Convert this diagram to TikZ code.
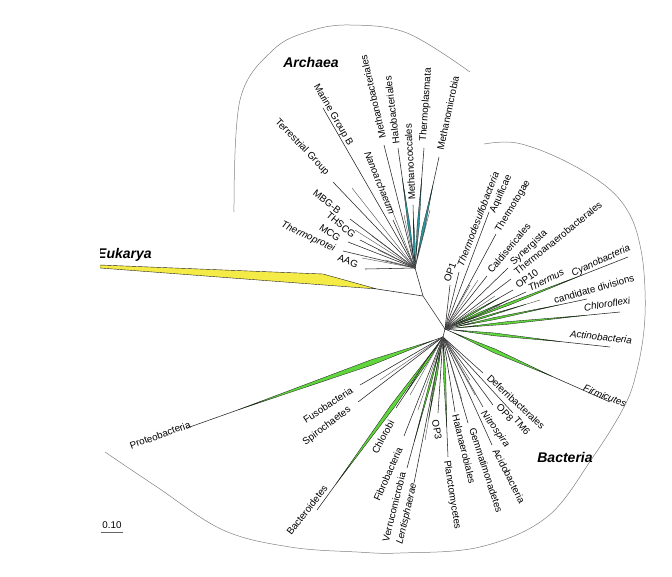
\documentclass[tikz,border=0pt]{standalone}
\usepackage{fontspec}
\setmainfont{Liberation Sans}
\usetikzlibrary{calc}
\definecolor{gr}{RGB}{95,215,60}
\definecolor{tl}{RGB}{45,150,160}
\definecolor{yl}{RGB}{245,235,70}
\definecolor{ln}{RGB}{35,35,35}
\newcommand{\kite}[7]{%
  \path[#1] ($(#2)!#4!(#3)$) -- ($(#2)!#5!(#3)!#7!90:(#3)$) -- ($(#2)!#6!(#3)$) -- ($(#2)!#5!(#3)!#7!-90:(#3)$) -- cycle;}
\begin{document}
\begin{tikzpicture}[x=1pt,y=-1pt,
  lbl/.style={font=\fontsize{9.8}{11}\selectfont, inner sep=0pt},
  lbli/.style={lbl, font=\fontsize{9.8}{11}\selectfont\itshape},
  grp/.style={font=\fontsize{14}{16}\selectfont\bfseries\itshape, inner sep=0pt},
  br/.style={draw=ln, line width=0.55pt},
  xbr/.style={draw=ln!80, line width=0.4pt},
  gk/.style={fill=gr, draw=ln, line width=0.35pt},
  tk/.style={fill=tl, draw=ln, line width=0.3pt},
  arcline/.style={draw=black!50, line width=0.5pt}]
\useasboundingbox (0,0) rectangle (672,576);
\clip (100,0) rectangle (672,576);

% hubs
\coordinate (HA) at (415,268);
\coordinate (J) at (423,296);
\coordinate (C) at (445,329);
\coordinate (HL) at (443,337);

% outline arcs
\draw[arcline] plot[smooth, tension=0.6] coordinates {(234,212) (240,100) (273,50) (310,31) (350,25) (407,33) (470,72)};
\draw[arcline] plot[smooth, tension=0.6] coordinates {(484,144) (517,143) (563,160) (607,187) (630,215) (641,250) (645,290) (644,330) (637,370) (625,405) (593,457) (547,517) (480,547) (400,553) (357,552) (290,547) (223,530) (157,487) (105,452)};

% Eukarya
\coordinate (eA) at (377,289);
\coordinate (eB) at (323,274);
\coordinate (eC) at (100,265);
\coordinate (eD) at (100,268);
\draw[br] (J) -- (eA);
\filldraw[fill=yl, draw=ln, line width=0.4pt] (eA) -- (eB) -- (eC) -- (eD) -- cycle;

% trunk
\draw[br] (HA) -- (J) -- (C) -- (HL);

% Archaea tips
\coordinate (aAAG) at (365,269);
\coordinate (aTP) at (343,251);
\coordinate (aMCG) at (348,242);
\coordinate (aTHS) at (360,240);
\coordinate (aMBG) at (350,219);
\coordinate (aTG) at (333,182);
\coordinate (aMGB) at (323,108);
\coordinate (aNano) at (393,220);
\coordinate (aMbac) at (384,145);
\coordinate (aHalo) at (398,148);
\coordinate (aMcoc) at (413,205);
\coordinate (aTpl) at (424,148);
\coordinate (aMmic) at (439,157);
\coordinate (ax1) at (372,236);
\coordinate (ax2) at (362,258);
\coordinate (ax3) at (378,250);
\coordinate (ax4) at (355,230);
\coordinate (ax5) at (352,188);
\coordinate (ax6) at (388,200);
\coordinate (ax7) at (404,215);
\coordinate (ax8) at (430,210);
\coordinate (ax9) at (385,260);
\foreach \t in {aAAG,aTP,aMCG,aTHS,aMBG,aTG,aMGB,aNano,aMbac,aHalo,aMcoc,aTpl,aMmic}
  \draw[br] (HA) -- (\t);
\foreach \t in {ax1,ax2,ax3,ax4,ax5,ax6,ax7,ax8,ax9}
  \draw[xbr] (HA) -- (\t);
\kite{tk}{HA}{aHalo}{0.08}{0.35}{0.75}{1.1pt}
\kite{tk}{HA}{aMcoc}{0.08}{0.35}{0.8}{1pt}
\kite{tk}{HA}{aTpl}{0.08}{0.35}{0.75}{1.1pt}
\kite{tk}{HA}{aMmic}{0.08}{0.35}{0.75}{1.3pt}

% Archaea labels
\node[grp] (gArch) at (311,62) {Archaea};
\node[lbl,rotate=-60] (lMGB) at (333,115) {Marine Group B};
\node[lbl,rotate=-46] (lTG) at (302,147) {Terrestrial Group};
\node[lbl,rotate=-38] (lMBG) at (327,202) {MBG-B};
\node[lbl,rotate=-40] (lTHS) at (341,225) {THSCG};
\node[lbl,rotate=-35] (lMCG) at (330,233) {MCG};
\node[lbli,rotate=-25] (lTP) at (308,237) {Thermoprotei};
\node[lbl,rotate=-22] (lAAG) at (348,261) {AAG};
\node[lbli,rotate=-68] (lNano) at (380,183) {Nanoarchaeum};
\node[lbl,rotate=103] (lMbac) at (373,97) {Methanobacteriales};
\node[lbl,rotate=97] (lHalo) at (392,110) {Halobacteriales};
\node[lbl,rotate=93] (lMcoc) at (410,162) {Methanococcales};
\node[lbl,rotate=86] (lTpl) at (426,105) {Thermoplasmata};
\node[lbl,rotate=78] (lMmic) at (448,113) {Methanomicrobia};

% Bacteria upper tips (hub C)
\coordinate (bOP1) at (450,285);
\coordinate (bTds) at (459,272);
\coordinate (bAqu) at (489,212);
\coordinate (bTtg) at (496,234);
\coordinate (bCal) at (487,276);
\coordinate (bSyn) at (508,268);
\coordinate (bTan) at (511,279);
\coordinate (bOP10) at (513,290);
\coordinate (bThs) at (526,292);
\coordinate (bCya) at (628,257);
\coordinate (bCand) at (587,299);
\coordinate (bChl) at (620,312);
\coordinate (bAct) at (610,347);
\coordinate (bFirm) at (610,402);
\coordinate (cx1) at (470,285);
\coordinate (cx2) at (478,280);
\coordinate (cx3) at (495,296);
\coordinate (cx4) at (500,305);
\coordinate (cx5) at (540,300);
\foreach \t in {bOP1,bTds,bAqu,bTtg,bCal,bSyn,bTan,bOP10,bThs,bCya,bCand,bChl,bAct,bFirm}
  \draw[br] (C) -- (\t);
\foreach \t in {cx1,cx2,cx3,cx4,cx5}
  \draw[xbr] (C) -- (\t);
\kite{gk}{C}{bCya}{0.08}{0.35}{0.75}{1.3pt}
\kite{gk}{C}{bCand}{0.08}{0.35}{0.8}{1.1pt}
\kite{gk}{C}{bChl}{0.08}{0.35}{0.8}{1.3pt}
\kite{gk}{C}{bAct}{0.05}{0.3}{0.7}{1.4pt}
\kite{gk}{C}{bFirm}{0.05}{0.3}{0.65}{2pt}
\kite{gk}{C}{bThs}{0.1}{0.4}{0.8}{0.9pt}
\kite{gk}{C}{bOP10}{0.1}{0.4}{0.8}{0.8pt}
\kite{gk}{C}{cx5}{0.1}{0.4}{0.85}{0.8pt}

% Bacteria upper labels
\node[lbl,rotate=70] (lOP1) at (450,272) {OP1};
\node[lbli,rotate=69] (lTds) at (478,219) {Thermodesulfobacteria};
\node[lbl,rotate=66] (lAqu) at (501,194) {Aquificae};
\node[lbl,rotate=59] (lTtg) at (513,206) {Thermotogae};
\node[lbl,rotate=50] (lCal) at (509,248) {Caldisericales};
\node[lbl,rotate=43] (lSyn) at (529,248) {Synergista};
\node[lbl,rotate=39] (lTan) at (558,238) {Thermoanaerobacterales};
\node[lbl,rotate=35] (lOP10) at (527,279) {OP10};
\node[lbli,rotate=27] (lThs) at (546,280) {Thermus};
\node[lbli,rotate=25] (lCya) at (601,261) {Cyanobacteria};
\node[lbl,rotate=16] (lCand) at (594,289) {candidate divisions};
\node[lbli,rotate=9] (lChl) at (607,304) {Chloroflexi};
\node[lbli,rotate=-6] (lAct) at (601,337) {Actinobacteria};
\node[lbli,rotate=-22] (lFirm) at (605,396) {Firmicutes};

% Bacteria lower tips (hub HL)
\coordinate (bDef) at (483,373);
\coordinate (bTM6) at (513,413);
\coordinate (bOP8) at (493,405);
\coordinate (bNit) at (483,407);
\coordinate (bAcid) at (492,445);
\coordinate (bGem) at (468,423);
\coordinate (bHal) at (455,412);
\coordinate (bOP3) at (438,413);
\coordinate (bPla) at (448,457);
\coordinate (bLen) at (414,483);
\coordinate (bVer) at (407,468);
\coordinate (bFib) at (404,436);
\coordinate (bChb) at (396,408);
\coordinate (bBac) at (317,510);
\coordinate (bSpi) at (358,402);
\coordinate (bFus) at (360,385);
\coordinate (bPro) at (187,428);
\coordinate (dx1) at (425,440);
\coordinate (dx2) at (430,400);
\coordinate (dx3) at (418,410);
\coordinate (dx4) at (462,400);
\coordinate (dx5) at (475,395);
\coordinate (dx6) at (410,395);
\coordinate (dx7) at (380,380);
\coordinate (dx8) at (470,380);
\foreach \t in {bDef,bTM6,bOP8,bNit,bAcid,bGem,bHal,bOP3,bPla,bLen,bVer,bFib,bChb,bBac,bSpi,bFus,bPro}
  \draw[br] (HL) -- (\t);
\foreach \t in {dx1,dx2,dx3,dx4,dx5,dx6,dx7,dx8}
  \draw[xbr] (HL) -- (\t);
\kite{gk}{HL}{bPro}{0.04}{0.28}{0.8}{2.6pt}
\kite{gk}{HL}{bBac}{0.08}{0.4}{0.85}{2pt}
\kite{gk}{HL}{bPla}{0.05}{0.3}{0.75}{1.2pt}
\kite{gk}{HL}{bChb}{0.08}{0.35}{0.8}{1.1pt}
\kite{gk}{HL}{bVer}{0.08}{0.35}{0.8}{0.9pt}
\kite{gk}{HL}{dx1}{0.08}{0.35}{0.8}{0.9pt}

% Bacteria lower labels
\node[lbl,rotate=-43] (lDef) at (516,402) {Deferribacterales};
\node[lbl,rotate=-50] (lTM6) at (522,426) {TM6};
\node[lbl,rotate=-48] (lOP8) at (505,413) {OP8};
\node[lbli,rotate=-54] (lNit) at (495,429) {Nitrospira};
\node[lbl,rotate=-63] (lAcid) at (509,476) {Acidobacteria};
\node[lbl,rotate=-72] (lGem) at (486,470) {Gemmatimonadetes};
\node[lbl,rotate=-76] (lHal) at (464,449) {Halanaerobiales};
\node[lbl,rotate=-81] (lPla) at (452,495) {Planctomycetes};
\node[lbl,rotate=-80] (lOP3) at (437,430) {OP3};
\node[lbli,rotate=77] (lLen) at (407,514) {Lentisphaerae};
\node[lbl,rotate=76] (lVer) at (394,507) {Verrucomicrobia};
\node[lbl,rotate=66] (lFib) at (388,474) {Fibrobacteria};
\node[lbl,rotate=62] (lChb) at (383,437) {Chlorobi};
\node[lbl,rotate=52] (lBac) at (307,510) {Bacteroidetes};
\node[lbl,rotate=37] (lSpi) at (327,426) {Spirochaetes};
\node[lbl,rotate=33] (lFus) at (328,405) {Fusobacteria};
\node[lbl,rotate=20] (lPro) at (160,435) {Proteobacteria};

% group labels
\node[grp] (gBac) at (565,457) {Bacteria};
\node[grp,anchor=west] (gEuk) at (97,255) {Eukarya};

% scale
\node[lbl] (scl) at (112,525) {0.10};
\coordinate (s1) at (101,532);
\coordinate (s2) at (123,532);
\draw[draw=black!60, line width=0.4pt] (s1) -- (s2);
\end{tikzpicture}
\end{document}
